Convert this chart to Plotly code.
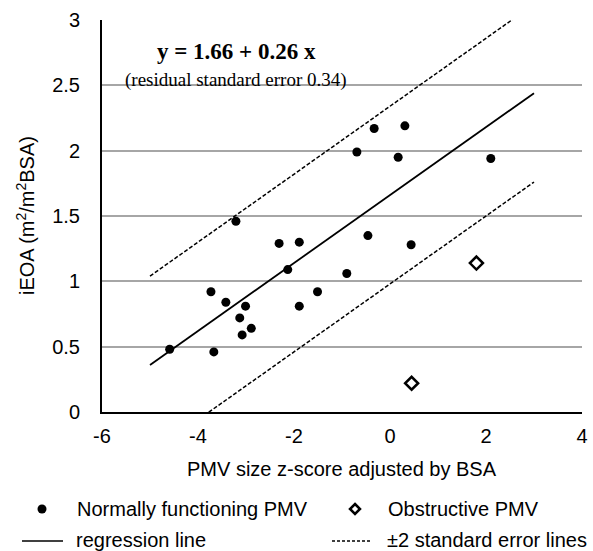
import plotly.graph_objects as go

# ---- data ----
normal_x = [-3.21, -2.31, -1.89, -2.13, -3.73, -3.42, -3.01, -1.51, -1.89, -3.13, -2.89,
            -3.08, -4.59, -3.67, -0.33, 0.31, -0.69, 0.17, 2.10, -0.46, 0.44, -0.90]
normal_y = [1.46, 1.29, 1.30, 1.09, 0.92, 0.84, 0.81, 0.92, 0.81, 0.72, 0.64,
            0.59, 0.48, 0.46, 2.17, 2.19, 1.99, 1.95, 1.94, 1.35, 1.28, 1.06]
obstr_x = [1.80, 0.45]
obstr_y = [1.14, 0.22]

intercept = 1.66
slope = 0.26
resid_se = 0.34
line_x = [-5.0, 3.0]

x_ticks = [-6, -4, -2, 0, 2, 4]
y_ticks = [0, 0.5, 1, 1.5, 2, 2.5, 3]

reg_y = [intercept + slope * x for x in line_x]
up_y = [intercept + 2 * resid_se + slope * x for x in line_x]
lo_y = [intercept - 2 * resid_se + slope * x for x in line_x]

W, H = 593, 551
ML, MR, MT, MB = 102, 11, 20, 139
PW, PH = W - ML - MR, H - MT - MB


def px(x):
    return (x - ML) / PW


def py(y):
    return (H - MB - y) / PH


FONT = "Liberation Sans, Arial, sans-serif"
SERIF = "Liberation Serif, Times New Roman, serif"
FS = 20

fig = go.Figure()
fig.add_trace(go.Scatter(x=line_x, y=up_y, mode="lines",
                         line=dict(color="black", width=1.5, dash="4px,2px")))
fig.add_trace(go.Scatter(x=line_x, y=lo_y, mode="lines",
                         line=dict(color="black", width=1.5, dash="4px,2px")))
fig.add_trace(go.Scatter(x=line_x, y=reg_y, mode="lines",
                         line=dict(color="black", width=1.8)))
fig.add_trace(go.Scatter(x=normal_x, y=normal_y, mode="markers",
                         marker=dict(symbol="circle", size=9, color="black")))
fig.add_trace(go.Scatter(x=obstr_x, y=obstr_y, mode="markers",
                         marker=dict(symbol="diamond-open", size=10, color="black",
                                     line=dict(width=2.5, color="black"))))

annotations = [
    dict(x=-3.2, y=2.757, xref="x", yref="y", text="<b>y = 1.66 + 0.26 x</b>",
         showarrow=False, xanchor="center", yanchor="middle",
         font=dict(family=SERIF, size=23, color="black")),
    dict(x=-3.2, y=2.543, xref="x", yref="y", text="(residual standard error 0.34)",
         showarrow=False, xanchor="center", yanchor="middle",
         font=dict(family=SERIF, size=19, color="black")),
    dict(x=px(342), y=py(469), xref="paper", yref="paper",
         text="PMV size z-score adjusted by BSA", showarrow=False,
         xanchor="center", yanchor="middle",
         font=dict(family=FONT, size=FS, color="black")),
    dict(x=px(25), y=py(216), xref="paper", yref="paper", textangle=-90,
         text="iEOA (m<sup>2</sup>/m<sup>2</sup>BSA)", showarrow=False,
         xanchor="center", yanchor="middle",
         font=dict(family=FONT, size=FS, color="black")),
]
legend_items = [
    (75, 509, "Normally functioning PMV"),
    (386, 509, "Obstructive PMV"),
    (74, 540, "regression line"),
    (385, 540, "±2 standard error lines"),
]
for lx, ly, t in legend_items:
    annotations.append(dict(x=px(lx), y=py(ly), xref="paper", yref="paper", text=t,
                            showarrow=False, xanchor="left", yanchor="middle",
                            font=dict(family=FONT, size=FS, color="black")))

shapes = [
    dict(type="circle", xref="paper", yref="paper", x0=px(37.5), x1=px(46.5),
         y0=py(513.5), y1=py(504.5), fillcolor="black", line=dict(width=0)),
    dict(type="path", xref="paper", yref="paper",
         path=f"M {px(355)},{py(504)} L {px(360)},{py(509)} L {px(355)},{py(514)} L {px(350)},{py(509)} Z",
         line=dict(color="black", width=2.5), fillcolor="white"),
    dict(type="line", xref="paper", yref="paper", x0=px(22), x1=px(63),
         y0=py(541), y1=py(541), line=dict(color="black", width=1.5)),
    dict(type="line", xref="paper", yref="paper", x0=px(332), x1=px(370),
         y0=py(541), y1=py(541), line=dict(color="black", width=1.3, dash="3px,2px")),
]

fig.update_layout(
    width=W, height=H,
    margin=dict(l=ML, r=MR, t=MT, b=MB, autoexpand=False),
    paper_bgcolor="white", plot_bgcolor="white",
    showlegend=False,
    annotations=annotations,
    shapes=shapes,
    font=dict(family=FONT, size=FS, color="black"),
)
fig.update_xaxes(range=[-6, 4], tickvals=x_ticks, ticktext=[str(v) for v in x_ticks],
                 showgrid=False, zeroline=False, showline=True, linecolor="black",
                 linewidth=2, ticks="", ticklabelstandoff=5,
                 tickfont=dict(family=FONT, size=FS, color="black"))
fig.update_yaxes(range=[0, 3], tickvals=y_ticks, ticktext=["0", "0.5", "1", "1.5", "2", "2.5", "3"],
                 showgrid=True, gridcolor="#a6a6a6", gridwidth=1.5,
                 zeroline=False, showline=True, linecolor="black",
                 linewidth=2, ticks="", ticklabelstandoff=16,
                 tickfont=dict(family=FONT, size=FS, color="black"))

fig.write_html("out.html")
